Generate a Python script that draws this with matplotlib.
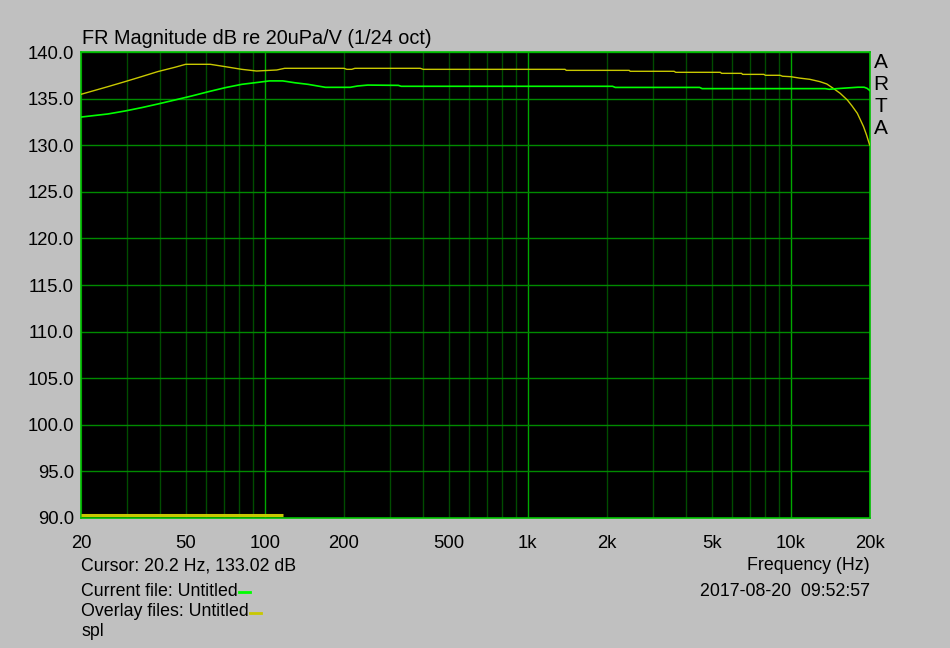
import matplotlib
matplotlib.use('Agg')
import matplotlib.pyplot as plt
from matplotlib.lines import Line2D

plt.rcParams['font.family'] = ['Liberation Sans', 'DejaVu Sans']
plt.rcParams['font.size'] = 13

# current file (green)
cur_f = [20, 25.3, 29.4, 34, 39.2, 45.5, 52.7, 61, 70.6, 81.7, 94.6, 104, 117,
         130, 146, 170, 211, 225, 246, 322, 330, 2100, 2150, 4500, 4600,
         13500, 14000, 15000, 16500, 18000, 19000, 19500, 20000]
cur_db = [133.02, 133.35, 133.67, 134.03, 134.42, 134.85, 135.28, 135.74, 136.17, 136.53,
          136.75, 136.9, 136.9, 136.7, 136.53, 136.21, 136.21, 136.35, 136.45, 136.42,
          136.32, 136.32, 136.2, 136.2, 136.07, 136.07, 136.0, 136.07, 136.15, 136.22,
          136.22, 136.1, 135.85]

# overlay file (yellow)
ovl_f = [20, 25.3, 29.4, 34, 39.2, 45.5, 50, 62, 70.6, 81.7, 93, 111, 119, 200, 205,
         214, 220, 390, 400, 1385, 1400, 2430, 2450, 3600, 3650, 5400, 5450, 6500, 6550,
         7900, 8000, 9100, 9300, 10000, 10800, 11800, 12900, 13700, 14500, 15400, 16400,
         17100, 17900, 18400, 18900, 19400, 19900, 20000]
ovl_db = [135.46, 136.28, 136.82, 137.36, 137.9, 138.36, 138.68, 138.68, 138.43, 138.14,
          137.96, 138.07, 138.25, 138.25, 138.14, 138.14, 138.25, 138.25, 138.14, 138.14,
          138.03, 138.03, 137.93, 137.93, 137.82, 137.82, 137.71, 137.71, 137.6, 137.6,
          137.5, 137.5, 137.4, 137.35, 137.2, 137.07, 136.82, 136.57, 136.1, 135.57, 134.85,
          134.2, 133.42, 132.7, 131.99, 131.1, 130.1, 130.0]

# "spl" overlay stub at the bottom
spl_f = [20, 117]
spl_db = [90.36, 90.36]

yticks = [90, 95, 100, 105, 110, 115, 120, 125, 130, 135, 140]
xticks = [20, 50, 100, 200, 500, 1000, 2000, 5000, 10000, 20000]
xlabels = ['20', '50', '100', '200', '500', '1k', '2k', '5k', '10k', '20k']
minor_f = [30, 40, 60, 70, 80, 90, 300, 400, 600, 700, 800, 900,
           3000, 4000, 6000, 7000, 8000, 9000]
major_f = [100, 1000, 10000]

fig = plt.figure(figsize=(9.5, 6.48), dpi=100, facecolor='#c0c0c0')
ax = fig.add_axes([81/950, 1-518/648, 789/950, 466/648])
ax.set_facecolor('black')
ax.set_xscale('log')
ax.set_xlim(20, 20000)
ax.set_ylim(90, 140)

for f in minor_f + [20, 50, 200, 500, 2000, 5000, 20000]:
    ax.axvline(f, color='#004c00', lw=1, zorder=1)
for f in major_f:
    ax.axvline(f, color='#00a800', lw=1, zorder=1)
for y in yticks:
    ax.axhline(y, color='#008a00', lw=1, zorder=1)

ax.plot(ovl_f, ovl_db, color='#c8c800', lw=1, zorder=3)
ax.plot(cur_f, cur_db, color='#00ff00', lw=1.2, zorder=4)
ax.plot(spl_f, spl_db, color='#c8c800', lw=2.2, zorder=4, solid_capstyle='butt')

ax.set_xticks(xticks)
ax.set_xticklabels(xlabels)
ax.set_xticks([], minor=True)
ax.set_yticks(yticks)
ax.set_yticklabels(['%.1f' % v for v in yticks])
ax.tick_params(length=0, pad=5, labelsize=13.3, colors='black')
ax.tick_params(axis='x', pad=12)
for s in ax.spines.values():
    s.set_color('#00c000')
    s.set_linewidth(1.2)

fig.text(82/950, 1-38/648, 'FR Magnitude dB re 20uPa/V (1/24 oct)', fontsize=14.3,
         ha='left', va='center')
for i, ch in enumerate('ARTA'):
    fig.text(881/950, 1-(62 + i*22)/648, ch, fontsize=15, ha='center', va='center')

fig.text(81/950, 1-566/648, 'Cursor: 20.2 Hz, 133.02 dB', fontsize=12.8, ha='left', va='center')
t1 = fig.text(81/950, 1-591/648, 'Current file: Untitled', fontsize=12.8, ha='left', va='center')
t2 = fig.text(81/950, 1-612/648, 'Overlay files: Untitled', fontsize=12.8, ha='left', va='center')
fig.text(81/950, 1-631/648, 'spl', fontsize=12.8, ha='left', va='center')
fig.text(870/950, 1-566/648, 'Frequency (Hz)', fontsize=12.8, ha='right', va='center')
fig.text(870/950, 1-591/648, '2017-08-20  09:52:57', fontsize=12.8, ha='right', va='center')

# short colour keys after the file names
fig.canvas.draw()
r = fig.canvas.get_renderer()
for t, c, yy in [(t1, '#00ff00', 592), (t2, '#c8c800', 613)]:
    bb = t.get_window_extent(r)
    x0 = bb.x1 / 950 + 1/950
    fig.add_artist(Line2D([x0, x0 + 11/950], [1-yy/648, 1-yy/648], color=c, lw=2))

fig.savefig('out.png', dpi=100, facecolor=fig.get_facecolor())
